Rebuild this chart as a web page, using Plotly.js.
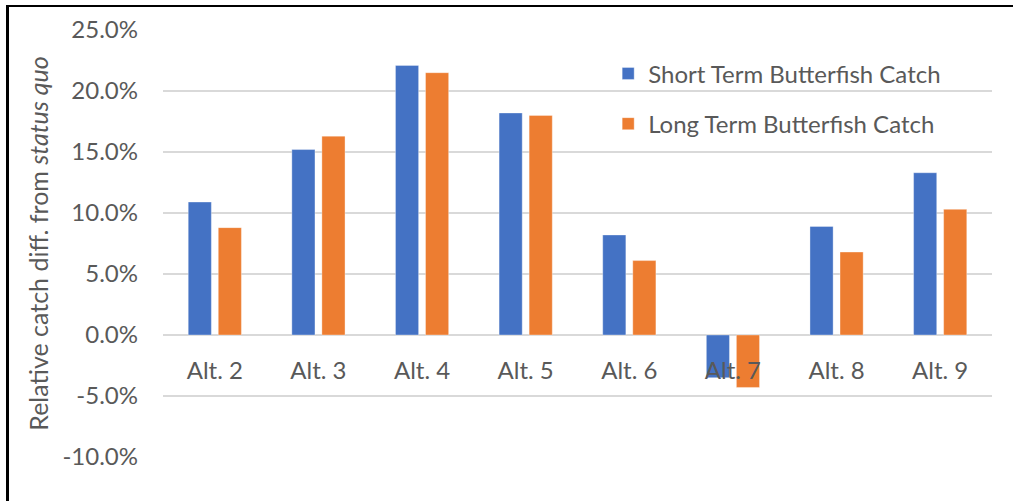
<!DOCTYPE html>
<html>
<head>
<meta charset="utf-8">
<script src="https://cdn.plot.ly/plotly-3.0.1.min.js"></script>
<style>
  html, body { margin: 0; padding: 0; background: #fff; }
  #wrap { position: relative; width: 1013px; height: 501px; }
  #chart { position: absolute; left: 0; top: 0; width: 1013px; height: 501px; }
  #frame { position: absolute; left: 6px; top: 5px; width: 1007px; height: 496px;
           border-top: 2px solid #000; border-left: 3px solid #000; pointer-events: none; }
</style>
</head>
<body>
<div id="wrap">
  <div id="chart"></div>
  <div id="frame"></div>
</div>
<script>
const categories = ["Alt. 2", "Alt. 3", "Alt. 4", "Alt. 5", "Alt. 6", "Alt. 7", "Alt. 8", "Alt. 9"];
const shortTerm = [0.109, 0.152, 0.221, 0.182, 0.082, -0.035, 0.089, 0.133];
const longTerm  = [0.088, 0.163, 0.215, 0.180, 0.061, -0.043, 0.068, 0.103];
const seriesNames = ["Short Term Butterfish Catch", "Long Term Butterfish Catch"];
const yTickVals = [-0.10, -0.05, 0, 0.05, 0.10, 0.15, 0.20, 0.25];
const yTickText = yTickVals.map(v => (v * 100).toFixed(1) + "%");

const yMin = -0.10, yMax = 0.25;
const domainY = [0, 1];
const zeroPos = domainY[0] + (0 - yMin) / (yMax - yMin) * (domainY[1] - domainY[0]);
const font = "Lato, 'Open Sans', sans-serif";
const grey = "#595959";
const fs = 24;

const traces = [
  { type: "bar", x: categories, y: shortTerm, name: seriesNames[0], legendgroup: "a",
    marker: { color: "#4472C4", line: { color: "rgba(255,255,255,0.35)", width: 1 } } },
  { type: "bar", x: categories, y: longTerm, name: seriesNames[1], legendgroup: "b",
    marker: { color: "#ED7D31", line: { color: "rgba(255,255,255,0.35)", width: 1 } } }
];

const layout = {
  width: 1013, height: 501,
  margin: { l: 163, r: 21, t: 30, b: 44, pad: 0 },
  paper_bgcolor: "#fff", plot_bgcolor: "#fff",
  font: { family: font, color: grey, size: fs },
  barmode: "group",
  bargap: 0.42,
  bargroupgap: 0.23,
  showlegend: true,
  legend: {
    x: 0.537, y: 0.95, xanchor: "left", yanchor: "top",
    bgcolor: "rgba(0,0,0,0)", font: { size: fs, color: grey, family: font },
    tracegroupgap: 16, itemwidth: 30
  },
  xaxis: {
    type: "category",
    anchor: "free", position: zeroPos,
    showgrid: false, zeroline: false, showline: false,
    ticks: "", ticklen: 0,
    ticklabelstandoff: 19,
    tickfont: { size: fs, color: grey, family: font },
    fixedrange: true
  },
  yaxis: {
    domain: domainY,
    range: [yMin, yMax],
    tickmode: "array",
    tickvals: yTickVals,
    ticktext: yTickText,
    showgrid: true, gridcolor: "#D9D9D9", gridwidth: 1.5,
    zeroline: false, showline: false, ticks: "",
    ticklabelstandoff: 24,
    tickfont: { size: fs, color: grey, family: font },
    title: { text: "Relative catch diff. from <i>status quo</i>", font: { size: 25, color: grey, family: font }, standoff: 6 },
    fixedrange: true
  }
};

Plotly.newPlot("chart", traces, layout, { displayModeBar: false, staticPlot: true });
</script>
</body>
</html>
